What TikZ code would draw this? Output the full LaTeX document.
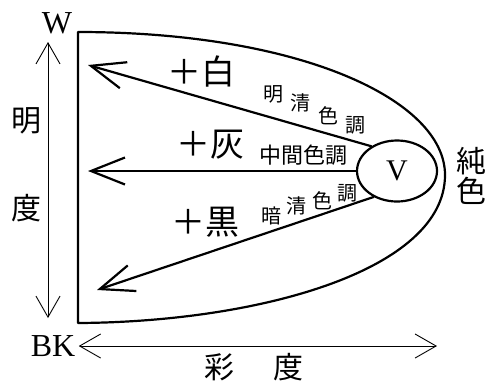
\documentclass[tikz,border=0pt]{standalone}
\usepackage{fontspec}
\setmainfont{Liberation Serif}
\newfontfamily\jp{Noto Sans CJK JP}
\usetikzlibrary{arrows.meta, shapes.geometric}

\begin{document}
\begin{tikzpicture}[line cap=round,line join=round,x=1pt,y=-1pt,
    bigtip/.style={-{Straight Barb[length=34pt,width=27pt,line width=2.2pt]}, line width=2.2pt},
    thintip/.style={{Straight Barb[length=21pt,width=24pt]}-{Straight Barb[length=21pt,width=24pt]}, line width=0.9pt},
    plus/.style={font=\jp\fontsize{34}{34}\selectfont, inner sep=0pt},
    tone/.style={font=\jp\fontsize{20}{20}\selectfont, inner sep=0pt},
    axis/.style={font=\jp\fontsize{30}{30}\selectfont, inner sep=0pt},
    latin/.style={font=\fontsize{32}{32}\selectfont}]

    \useasboundingbox (0,0) rectangle (492,381);

    % colour solid outline
    \draw[line width=2.2pt] (78,323) -- (78,32) .. controls (300,32) and (445,100) .. (445,175)
        .. controls (445,270) and (260,322) .. (78,323);

    % pure colour
    \node[ellipse, draw, line width=2.2pt, minimum width=80pt, minimum height=61pt, inner sep=0pt,
        font=\fontsize{30}{30}\selectfont] (V) at (397,171) {V};

    \coordinate (WT) at (88,65);
    \coordinate (GT) at (88,171);
    \coordinate (BT) at (97,290);

    \draw[bigtip] (V.136) -- (WT);
    \draw[bigtip] (V.west) -- (GT);
    \draw[bigtip] (V.228) -- (BT);

    % mixtures
    \node[plus] (white) at (201,72) {＋白};
    \node[plus] (grey) at (210,145) {＋灰};
    \node[plus] (black) at (205,222) {＋黒};

    \node[tone] (t1) at (273,94) {明};
    \node[tone] (t2) at (300,103) {清};
    \node[tone] (t3) at (328,116) {色};
    \node[tone] (t4) at (355,125) {調};

    \node[tone, font=\jp\fontsize{22}{22}\selectfont] (mid) at (303,155) {中間色調};

    \node[tone] (d1) at (271,216) {暗};
    \node[tone] (d2) at (296,206) {清};
    \node[tone] (d3) at (322,201) {色};
    \node[tone] (d4) at (347,193) {調};

    % axes
    \node[latin] (W) at (57,23) {W};
    \node[latin] (BK) at (53,346) {BK};

    \coordinate (LT) at (48,42);
    \coordinate (LB) at (48,318);
    \coordinate (CE) at (437,346);

    \draw[thintip] (LT) -- (LB);
    \draw[thintip] (BK.east) -- (CE);

    \node[axis] (v1) at (26,121) {明};
    \node[axis] (v2) at (26,208) {度};
    \node[axis] (c1) at (219,367) {彩};
    \node[axis] (c2) at (288,367) {度};
    \node[axis] (p1) at (471,161) {純};
    \node[axis] (p2) at (471,191) {色};

\end{tikzpicture}
\end{document}
